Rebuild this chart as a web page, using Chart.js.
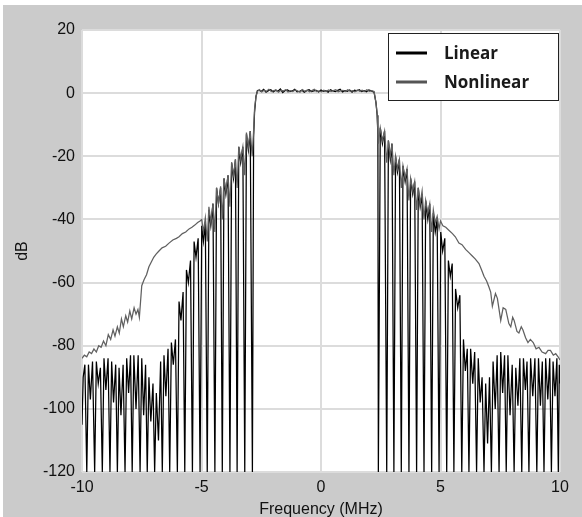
<!DOCTYPE html>
<html>
<head>
<meta charset="utf-8">
<script src="https://cdn.jsdelivr.net/npm/chart.js@4/dist/chart.umd.min.js"></script>
<style>
  html, body { margin:0; padding:0; background:#fff; }
  #wrap { width:582px; height:517px; }
</style>
</head>
<body>
<div id="wrap"><canvas id="spec" width="582" height="517"></canvas></div>
<script>
// axis ticks
const xTicks = [-10, -5, 0, 5, 10];
const yTicks = [-120, -100, -80, -60, -40, -20, 0, 20];
const seriesNames = ["Linear", "Nonlinear"];

// Linear: [MHz, dB]
const linearLeftSkirt = [
  [-10.00,-105],[-9.95,-90],[-9.88,-86],[-9.80,-120],
  [-9.73,-86],[-9.65,-97],[-9.56,-85],[-9.47,-120],
  [-9.40,-85],[-9.32,-92],[-9.23,-87],[-9.15,-120],
  [-9.08,-84],[-9.00,-94],[-8.91,-84],[-8.83,-120],
  [-8.76,-85],[-8.68,-98],[-8.59,-86],[-8.52,-120],
  [-8.45,-87],[-8.37,-102],[-8.28,-86],[-8.20,-120],
  [-8.13,-84],[-8.05,-95],[-7.97,-83],[-7.90,-120],
  [-7.83,-83],[-7.74,-100],[-7.65,-83],[-7.57,-120],
  [-7.50,-84],[-7.42,-102],[-7.34,-86],[-7.27,-120],
  [-7.20,-90],[-7.12,-104],[-7.03,-92],[-6.96,-120],
  [-6.89,-95],[-6.80,-110],[-6.71,-85],[-6.64,-120],
  [-6.57,-83],[-6.49,-96],[-6.40,-81],[-6.33,-120],
  [-6.26,-79],[-6.18,-86],[-6.09,-78],[-6.01,-120],
  [-5.94,-66],[-5.86,-72],[-5.77,-63],[-5.70,-120],
  [-5.63,-56],[-5.55,-60],[-5.46,-53],[-5.38,-120],
  [-5.31,-47],[-5.23,-52],[-5.14,-46],[-5.06,-120],
  [-4.99,-42],[-4.92,-47],[-4.84,-41],[-4.76,-120],
  [-4.69,-37],[-4.61,-42],[-4.52,-35],[-4.44,-120],
  [-4.37,-30],[-4.29,-35],[-4.20,-30],[-4.13,-120],
  [-4.06,-27],[-3.98,-32],[-3.89,-26],[-3.81,-120],
  [-3.74,-22],[-3.66,-27],[-3.58,-21],[-3.51,-120],
  [-3.44,-17],[-3.36,-22],[-3.27,-17],[-3.19,-120],
  [-3.12,-13],[-3.04,-18],[-2.96,-12],[-2.87,-120],
  [-2.82,-14],[-2.78,-6],[-2.72,-1]
];
const linearBand = [
  [-2.66,0.8],[-2.60,0.9],[-2.50,0.5],[-2.40,1.2],[-2.30,0.3],[-2.20,0.8],[-2.10,1.1],
  [-2.00,0.4],[-1.90,0.9],[-1.80,0.6],[-1.70,1.3],[-1.60,0.2],[-1.50,0.8],[-1.40,1.0],
  [-1.30,0.5],[-1.20,0.7],[-1.10,1.2],[-1.00,0.4],[-0.90,0.6],[-0.80,0.9],[-0.70,0.3],
  [-0.60,0.8],[-0.50,1.1],[-0.40,0.5],[-0.30,0.7],[-0.20,0.9],[-0.10,0.4],[0.00,1.0],
  [0.10,0.6],[0.20,0.8],[0.30,0.3],[0.40,1.1],[0.50,0.7],[0.60,0.5],[0.70,0.9],
  [0.80,1.2],[0.90,0.4],[1.00,0.8],[1.10,0.6],[1.20,1.0],[1.30,0.3],[1.40,0.9],
  [1.50,0.7],[1.60,1.1],[1.70,0.5],[1.80,0.8],[1.90,0.4],[2.00,1.0],[2.10,0.7],[2.22,0.3]
];
const linearRightSkirt = [
  [2.30,-3],[2.35,-7],[2.38,-13],[2.40,-120],
  [2.48,-11],[2.57,-16],[2.66,-12],[2.75,-120],
  [2.82,-15],[2.90,-21],[2.97,-16],[3.05,-120],
  [3.12,-20],[3.20,-25],[3.28,-21],[3.36,-120],
  [3.43,-23],[3.52,-28],[3.60,-24],[3.68,-120],
  [3.75,-27],[3.84,-32],[3.92,-28],[4.00,-120],
  [4.07,-30],[4.15,-36],[4.23,-32],[4.31,-120],
  [4.38,-34],[4.47,-40],[4.55,-35],[4.63,-120],
  [4.70,-38],[4.78,-44],[4.86,-40],[4.94,-120],
  [5.01,-44],[5.09,-50],[5.18,-46],[5.26,-120],
  [5.33,-53],[5.41,-58],[5.49,-54],[5.56,-120],
  [5.63,-62],[5.72,-68],[5.81,-64],[5.89,-120],
  [5.96,-78],[6.04,-88],[6.12,-81],[6.19,-120],
  [6.26,-81],[6.35,-92],[6.43,-82],[6.51,-120],
  [6.58,-84],[6.66,-98],[6.74,-90],[6.82,-120],
  [6.89,-92],[6.97,-111],[7.05,-90],[7.13,-120],
  [7.20,-85],[7.29,-100],[7.37,-83],[7.45,-120],
  [7.52,-82],[7.60,-95],[7.68,-83],[7.75,-120],
  [7.82,-83],[7.91,-102],[8.00,-86],[8.08,-120],
  [8.15,-87],[8.24,-99],[8.32,-84],[8.40,-120],
  [8.47,-84],[8.55,-94],[8.62,-85],[8.70,-120],
  [8.77,-84],[8.86,-96],[8.95,-84],[9.03,-120],
  [9.10,-84],[9.18,-99],[9.26,-85],[9.33,-120],
  [9.40,-84],[9.49,-97],[9.57,-84],[9.64,-120],
  [9.71,-85],[9.79,-96],[9.87,-84],[9.93,-120],
  [9.97,-86],[10.00,-92]
];

// Nonlinear: [MHz, dB]
const nonlinearLeftSkirt = [
  [-10.00,-84],[-9.90,-83],[-9.80,-83.5],[-9.70,-82],[-9.60,-82.5],[-9.50,-81],[-9.40,-82],
  [-9.30,-80],[-9.20,-80.5],[-9.10,-78.5],[-9.00,-80],[-8.90,-76.5],[-8.80,-78],[-8.70,-75],
  [-8.62,-77],[-8.52,-74],[-8.44,-76],[-8.35,-71.5],[-8.27,-74],[-8.17,-70.5],[-8.09,-72.5],
  [-8.00,-69],[-7.92,-71.5],[-7.82,-68],[-7.74,-70],[-7.66,-68.5],[-7.60,-71],[-7.55,-66],
  [-7.50,-61],[-7.40,-59],[-7.30,-57.5],[-7.20,-55],[-7.10,-53.5],[-7.00,-52],[-6.90,-51],
  [-6.78,-50],[-6.65,-49],[-6.50,-48.5],[-6.36,-47.5],[-6.20,-46.5],[-6.05,-46],[-5.94,-45.5],
  [-5.80,-44.5],[-5.66,-44],[-5.52,-43],[-5.40,-42.5],[-5.28,-41.8],[-5.16,-41],[-5.06,-40.5],
  [-4.99,-40],[-4.92,-44],[-4.84,-39.5],[-4.76,-47],
  [-4.69,-36],[-4.61,-41],[-4.52,-35],[-4.44,-44],
  [-4.37,-30],[-4.29,-35],[-4.20,-29.5],[-4.13,-40],
  [-4.06,-27],[-3.98,-31],[-3.89,-26],[-3.81,-36],
  [-3.74,-22],[-3.66,-26],[-3.58,-21],[-3.51,-30],
  [-3.44,-17],[-3.36,-21],[-3.27,-17],[-3.19,-26],
  [-3.12,-12.5],[-3.04,-17],[-2.96,-12],[-2.88,-20],
  [-2.82,-12],[-2.78,-5],[-2.72,-1]
];
const nonlinearBand = [
  [-2.66,0.6],[-2.58,1.1],[-2.48,0.4],[-2.38,0.9],[-2.28,0.6],[-2.18,1.2],[-2.08,0.5],
  [-1.98,0.8],[-1.88,1.0],[-1.78,0.3],[-1.68,0.9],[-1.58,0.7],[-1.48,1.1],[-1.38,0.4],
  [-1.28,0.8],[-1.18,0.5],[-1.08,1.0],[-0.98,0.7],[-0.88,0.3],[-0.78,1.1],[-0.68,0.6],
  [-0.58,0.9],[-0.48,0.4],[-0.38,0.8],[-0.28,1.2],[-0.18,0.5],[-0.08,0.7],[0.02,0.4],
  [0.12,0.9],[0.22,0.6],[0.32,1.0],[0.42,0.5],[0.52,0.8],[0.62,1.1],[0.72,0.4],
  [0.82,0.7],[0.92,0.9],[1.02,0.5],[1.12,1.1],[1.22,0.6],[1.32,0.8],[1.42,0.4],
  [1.52,1.0],[1.62,0.6],[1.72,0.9],[1.82,0.5],[1.92,1.1],[2.02,0.6],[2.12,0.8],[2.22,0.5]
];
const nonlinearRightSkirt = [
  [2.30,-3],[2.35,-6.5],[2.40,-16],
  [2.48,-11],[2.57,-15],[2.66,-12],[2.75,-22],
  [2.82,-15],[2.90,-20],[2.97,-16],[3.05,-26],
  [3.12,-20],[3.20,-24],[3.28,-21],[3.36,-30],
  [3.43,-23],[3.52,-27],[3.60,-24],[3.68,-34],
  [3.75,-27],[3.84,-31],[3.92,-28],[4.00,-37],
  [4.07,-30],[4.15,-35],[4.23,-31],[4.31,-40],
  [4.38,-34],[4.47,-38],[4.55,-35],[4.63,-44],
  [4.70,-37],[4.78,-41],[4.86,-39],[4.94,-43],
  [5.00,-40.5],[5.10,-42],[5.22,-42.5],[5.36,-43.5],[5.50,-44.5],[5.62,-45.5],[5.77,-47.5],
  [5.90,-48],[6.05,-49.5],[6.19,-50.5],[6.32,-51.5],[6.45,-52.5],[6.61,-54],[6.72,-56],
  [6.82,-58],[6.93,-59.5],[7.03,-61.5],[7.10,-63],[7.17,-67.5],[7.30,-63.5],[7.38,-65],
  [7.52,-72],[7.62,-68],[7.73,-68.5],[7.86,-73],[7.94,-74],[8.02,-71],[8.08,-72],
  [8.20,-75.5],[8.28,-76],[8.38,-74],[8.45,-75],[8.56,-77.5],[8.66,-79],[8.76,-78],
  [8.88,-79],[9.00,-81],[9.12,-80.5],[9.25,-82],[9.40,-82.5],[9.50,-81.5],[9.60,-81.5],
  [9.72,-83],[9.82,-82.5],[9.92,-83.5],[10.00,-84.5]
];

function pts(...parts){
  return parts.flat().map(p => ({x:p[0], y:p[1]}));
}

const frame = {
  id: "frame",
  beforeDraw(chart){
    const {ctx, width, height, chartArea:a} = chart;
    ctx.save();
    ctx.fillStyle = "#fff";
    ctx.fillRect(0, 0, width, height);
    ctx.fillStyle = "#cbcbcb";
    ctx.fillRect(3, 5, width - 3, height - 5);
    ctx.fillStyle = "#fff";
    ctx.fillRect(a.left, a.top, a.right - a.left, a.bottom - a.top);
    ctx.restore();
  }
};

// boxed legend drawn inside the plot, top right
const boxLegend = {
  id: "boxLegend",
  afterDraw(chart){
    const {ctx, chartArea:a} = chart;
    const w = 170, h = 67;
    const x0 = a.right - w - 2, y0 = a.top + 3;
    ctx.save();
    ctx.fillStyle = "#fff";
    ctx.fillRect(x0, y0, w, h);
    ctx.strokeStyle = "#222";
    ctx.lineWidth = 1;
    ctx.strokeRect(x0 + 0.5, y0 + 0.5, w, h);
    ctx.font = "bold 17px 'Open Sans', 'Noto Sans', sans-serif";
    ctx.textBaseline = "middle";
    chart.data.datasets.forEach((ds, i) => {
      const yy = y0 + 20 + i * 29;
      ctx.strokeStyle = ds.legendColor;
      ctx.lineWidth = 3;
      ctx.beginPath();
      ctx.moveTo(x0 + 8, yy);
      ctx.lineTo(x0 + 39, yy);
      ctx.stroke();
      ctx.fillStyle = "#1a1a1a";
      ctx.fillText(ds.label, x0 + 56, yy + 1);
    });
    ctx.restore();
  }
};

const tickFont = { family: "'Liberation Sans', Arial, sans-serif", size: 16 };

new Chart(document.getElementById("spec"), {
  type: "line",
  data: {
    datasets: [
      { label: seriesNames[0], data: pts(linearLeftSkirt, linearBand, linearRightSkirt),
        borderColor: "#000", legendColor: "#000", borderWidth: 1.25, order: 1 },
      { label: seriesNames[1], data: pts(nonlinearLeftSkirt, nonlinearBand, nonlinearRightSkirt),
        borderColor: "#606060", legendColor: "#555", borderWidth: 1.25, order: 0 }
    ]
  },
  options: {
    responsive: false,
    animation: false,
    parsing: false,
    elements: { point: { radius: 0 }, line: { tension: 0 } },
    layout: { padding: { top: 30, right: 22, left: 0, bottom: 0 } },
    plugins: { legend: { display: false }, tooltip: { enabled: false } },
    scales: {
      x: {
        type: "linear", min: -10, max: 10,
        afterBuildTicks: s => { s.ticks = xTicks.map(v => ({ value: v })); },
        afterFit: s => { s.height = 45; },
        ticks: { color: "#111", font: tickFont, padding: 6, maxRotation: 0 },
        grid: { color: "#dcdcdc", lineWidth: 2, drawTicks: false },
        border: { display: false },
        title: { display: true, text: "Frequency (MHz)", color: "#111", font: tickFont, padding: { top: 0, bottom: -2 } }
      },
      y: {
        type: "linear", min: -120, max: 20,
        afterBuildTicks: s => { s.ticks = yTicks.map(v => ({ value: v })); },
        afterFit: s => { s.width = 82; },
        ticks: { color: "#111", font: tickFont, padding: 7 },
        grid: { color: "#dcdcdc", lineWidth: 2, drawTicks: false },
        border: { display: false },
        title: { display: true, text: "dB", color: "#111", font: tickFont, padding: { top: 13, bottom: 0 } }
      }
    }
  },
  plugins: [frame, boxLegend]
});
</script>
</body>
</html>
